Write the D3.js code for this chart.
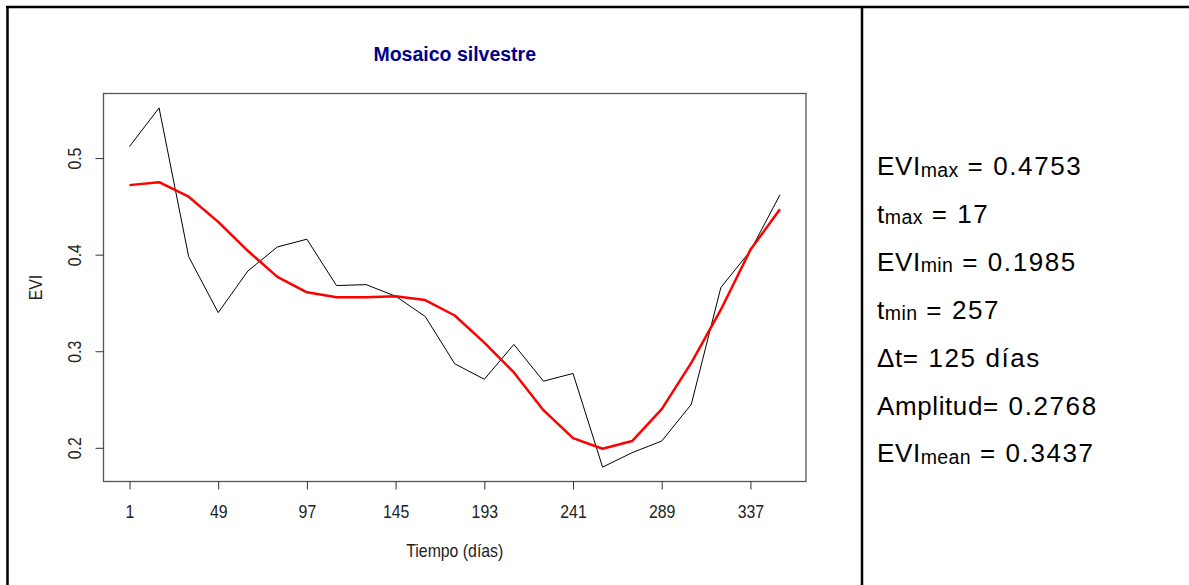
<!DOCTYPE html>
<html>
<head>
<meta charset="utf-8">
<script src="https://cdn.jsdelivr.net/npm/d3@7"></script>
<style>
body { margin: 0; background: #fff; }
svg { display: block; font-family: "Liberation Sans", Arial, sans-serif; }
</style>
</head>
<body>
<svg id="chart" width="1189" height="585"></svg>
<script>
// dias (composiciones de 16 dias)
var days = [1, 17, 33, 49, 65, 81, 97, 113, 129, 145, 161, 177, 193, 209, 225, 241, 257, 273, 289, 305, 321, 337, 353];
// EVI original
var evi = [0.512, 0.552, 0.398, 0.340, 0.383, 0.408, 0.416, 0.368, 0.369, 0.357, 0.336, 0.287, 0.271,
	0.307, 0.269, 0.277, 0.180, 0.195, 0.207, 0.245, 0.366, 0.404, 0.462];
// EVI suavizado
var eviSmooth = [0.472, 0.475, 0.460, 0.434, 0.404, 0.377, 0.361, 0.356, 0.356, 0.357, 0.353, 0.337, 0.309,
	0.278, 0.239, 0.210, 0.199, 0.207, 0.240, 0.288, 0.343, 0.405, 0.447];

var xTicks = [1, 49, 97, 145, 193, 241, 289, 337];
var yTicks = [0.2, 0.3, 0.4, 0.5];

var statMain = ["EVI", "t", "EVI", "t", "\u0394t", "Amplitud", "EVI"];
var statSub = ["max", "max", "min", "min", "", "", "mean"];
var statValue = ["= 0.4753", "= 17", "= 0.1985", "= 257", "= 125 días", "= 0.2768", "= 0.3437"];

var svg = d3.select("#chart");

// tabla (bordes)
svg.append("line").attr("x1", 6).attr("x2", 1189).attr("y1", 7).attr("y2", 7)
	.attr("stroke", "#000").attr("stroke-width", 2.5);
svg.append("line").attr("x1", 7.5).attr("x2", 7.5).attr("y1", 6).attr("y2", 585)
	.attr("stroke", "#000").attr("stroke-width", 2.5);
svg.append("line").attr("x1", 862).attr("x2", 862).attr("y1", 6).attr("y2", 585)
	.attr("stroke", "#000").attr("stroke-width", 2.5);

var plot = {left: 103.5, right: 806, top: 93.5, bottom: 481.5};

// R style: 4% extension of the data range
var xr = d3.extent(days), xpad = (xr[1] - xr[0]) * 0.04;
var allY = evi.concat(eviSmooth);
var yr = d3.extent(allY), ypad = (yr[1] - yr[0]) * 0.04;

var x = d3.scaleLinear()
	.domain([xr[0] - xpad, xr[1] + xpad])
	.range([plot.left, plot.right]);

var y = d3.scaleLinear()
	.domain([yr[0] - ypad, yr[1] + ypad])
	.range([plot.bottom, plot.top]);

// title
svg.append("text")
	.attr("x", (plot.left + plot.right) / 2)
	.attr("y", 61)
	.attr("text-anchor", "middle")
	.style("font-size", "19.5px")
	.style("font-weight", "bold")
	.attr("fill", "#00008B")
	.text("Mosaico silvestre");

// lines
var line = d3.line()
	.x((d, i) => x(days[i]))
	.y(d => y(d));

svg.append("path")
	.datum(evi)
	.attr("fill", "none")
	.attr("stroke", "#000")
	.attr("stroke-width", 1)
	.attr("d", line);

svg.append("path")
	.datum(eviSmooth)
	.attr("fill", "none")
	.attr("stroke", "#ff0000")
	.attr("stroke-width", 2.5)
	.attr("stroke-linejoin", "round")
	.attr("d", line);

// box
svg.append("rect")
	.attr("x", plot.left).attr("y", plot.top)
	.attr("width", plot.right - plot.left)
	.attr("height", plot.bottom - plot.top)
	.attr("fill", "none")
	.attr("stroke", "#555")
	.attr("stroke-width", 1.3);

// axes
var xAxis = svg.append("g")
	.attr("class", "x-axis")
	.attr("transform", `translate(0,${plot.bottom})`)
	.call(d3.axisBottom(x).tickValues(xTicks).tickSize(8).tickFormat(d3.format("d")));

var yAxis = svg.append("g")
	.attr("class", "y-axis")
	.attr("transform", `translate(${plot.left},0)`)
	.call(d3.axisLeft(y).tickValues(yTicks).tickSize(8).tickFormat(d3.format(".1f")));

svg.selectAll(".x-axis .domain, .y-axis .domain").remove();
svg.selectAll(".x-axis .tick line, .y-axis .tick line").attr("stroke", "#333").attr("stroke-width", 1);

// R/Windows text looks tall and narrow
xAxis.selectAll("text")
	.style("font-size", "18px")
	.style("font-family", "'Liberation Sans', Arial, sans-serif")
	.attr("fill", "#222")
	.attr("dy", null)
	.attr("y", 37)
	.attr("transform", "scale(0.88,1)");

yAxis.selectAll("text")
	.style("font-size", "18px")
	.style("font-family", "'Liberation Sans', Arial, sans-serif")
	.attr("fill", "#222")
	.attr("text-anchor", "middle")
	.attr("x", null).attr("dy", null)
	.attr("transform", "translate(-23,0) rotate(-90) scale(0.88,1)");

// axis titles
svg.append("text")
	.attr("transform", `translate(${(plot.left + plot.right) / 2},557) scale(0.88,1)`)
	.attr("text-anchor", "middle")
	.style("font-size", "18px")
	.attr("fill", "#222")
	.text("Tiempo (días)");

svg.append("text")
	.attr("transform", `translate(42,${(plot.top + plot.bottom) / 2}) rotate(-90) scale(0.88,1)`)
	.attr("text-anchor", "middle")
	.style("font-size", "18px")
	.attr("fill", "#222")
	.text("EVI");

// stats
var stats = svg.append("g").attr("class", "stats");
statMain.forEach(function(m, i) {
	var t = stats.append("text")
		.attr("x", 877)
		.attr("y", 175 + i * 47.9)
		.style("font-size", "26px")
		.attr("fill", "#000");
	t.append("tspan").style("letter-spacing", "0.6px").text(m);
	if (statSub[i]) {
		t.append("tspan").attr("dy", 1.5).style("font-size", "19.5px").style("letter-spacing", "0.4px").text(statSub[i]);
		t.append("tspan").attr("dy", -1.5).style("letter-spacing", "1.6px").text(" " + statValue[i]);
	} else {
		t.append("tspan").style("letter-spacing", "1.6px").text(statValue[i]);
	}
});
</script>
</body>
</html>
